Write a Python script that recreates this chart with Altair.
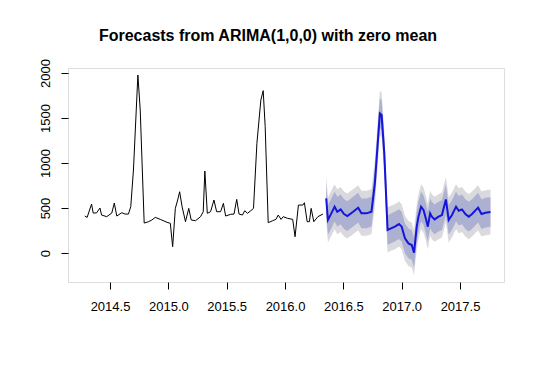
import altair as alt
import pandas as pd

# Historical series (time in years, value)
hist_t = [2014.284, 2014.304, 2014.342, 2014.356, 2014.385, 2014.414, 2014.428, 2014.472,
          2014.515, 2014.537, 2014.558, 2014.601, 2014.629, 2014.658, 2014.678, 2014.701,
          2014.739, 2014.759, 2014.793, 2014.830, 2014.859, 2014.888, 2014.931, 2014.989,
          2015.017, 2015.037, 2015.060, 2015.080, 2015.097, 2015.118, 2015.147, 2015.175,
          2015.196, 2015.233, 2015.276, 2015.299, 2015.313, 2015.334, 2015.362, 2015.391,
          2015.414, 2015.448, 2015.472, 2015.491, 2015.534, 2015.563, 2015.586, 2015.606,
          2015.635, 2015.655, 2015.678, 2015.707, 2015.730, 2015.759, 2015.793, 2015.813,
          2015.830, 2015.856, 2015.894, 2015.922, 2015.942, 2015.966, 2015.985, 2016.023,
          2016.066, 2016.086, 2016.115, 2016.153, 2016.166, 2016.190, 2016.209, 2016.224,
          2016.247, 2016.282, 2016.325]
hist_v = [411, 396, 544, 444, 446, 500, 422, 404,
          444, 555, 411, 448, 433, 433, 515, 922,
          1978, 1589, 333, 348, 367, 396, 374, 341,
          330, 70, 496, 589, 681, 515, 348, 496,
          367, 359, 404, 459, 911, 441, 459, 589,
          459, 459, 552, 411, 430, 433, 596, 433,
          422, 470, 441, 470, 496, 1219, 1700, 1804,
          1404, 337, 359, 374, 422, 374, 404, 385,
          374, 181, 533, 533, 559, 348, 348, 496,
          348, 404, 433]

# Forecast series
fc_t = [2016.353, 2016.368, 2016.397, 2016.425, 2016.448, 2016.477, 2016.506, 2016.534,
        2016.584, 2016.627, 2016.655, 2016.698, 2016.741, 2016.770, 2016.813, 2016.828,
        2016.851, 2016.879, 2016.908, 2016.942, 2016.977, 2017.000, 2017.028, 2017.058,
        2017.086, 2017.106, 2017.129, 2017.144, 2017.166, 2017.187, 2017.207, 2017.224,
        2017.244, 2017.259, 2017.282, 2017.316, 2017.345, 2017.379, 2017.403, 2017.431,
        2017.466, 2017.489, 2017.517, 2017.546, 2017.575, 2017.603, 2017.655, 2017.684,
        2017.718, 2017.761]
fc_v = [607, 367, 441, 515, 459, 485, 433, 411,
        459, 504, 441, 441, 459, 774, 1552, 1533,
        1107, 256, 274, 293, 322, 293, 163, 107,
        89, 4, 293, 404, 515, 478, 385, 293,
        441, 404, 374, 404, 422, 596, 367, 422,
        515, 470, 485, 433, 404, 433, 504, 433,
        448, 456]

# Half-widths of the prediction intervals
half80 = 165
half95 = 250

x_ticks = [2014.5, 2015.0, 2015.5, 2016.0, 2016.5, 2017.0, 2017.5]
y_ticks = [0, 500, 1000, 1500, 2000]
title_text = ["Forecasts from ARIMA(1,0,0) with zero mean"]

hist = pd.DataFrame({"t": hist_t, "v": hist_v})
fc = pd.DataFrame({"t": fc_t, "v": fc_v})
fc["lo80"] = fc["v"] - half80
fc["hi80"] = fc["v"] + half80
fc["lo95"] = fc["v"] - half95
fc["hi95"] = fc["v"] + half95

FONT = "Liberation Sans"

xaxis = alt.Axis(values=x_ticks, format=".1f", title=None, grid=False, domain=False,
                 tickSize=7, tickColor="black", labelColor="black", labelFont=FONT,
                 labelFontSize=13, labelPadding=11, labelBaseline="top", labelAngle=0)
yaxis = alt.Axis(values=y_ticks, format="d", title=None, grid=False, domain=False,
                 tickSize=7, tickColor="black", labelColor="black", labelFont=FONT,
                 labelFontSize=13, labelAngle=-90, labelAlign="center",
                 labelBaseline="alphabetic", labelPadding=12)

xs = alt.Scale(domain=[2014.14, 2017.877], nice=False, zero=False)
ys = alt.Scale(domain=[-322, 2056], nice=False, zero=False)

X = alt.X("t:Q", scale=xs, axis=xaxis)
Y = alt.Y("v:Q", scale=ys, axis=yaxis)

band95 = alt.Chart(fc).mark_area(color="#D9D9DE", opacity=1).encode(
    x=X, y=alt.Y("lo95:Q", scale=ys, axis=yaxis), y2="hi95:Q")
band80 = alt.Chart(fc).mark_area(color="#ADB1D1", opacity=1).encode(
    x=X, y=alt.Y("lo80:Q", scale=ys, axis=yaxis), y2="hi80:Q")
hline = alt.Chart(hist).mark_line(color="black", strokeWidth=1).encode(x=X, y=Y)
fline = alt.Chart(fc).mark_line(color="#1414DC", strokeWidth=2).encode(x=X, y=Y)

title = alt.Chart(pd.DataFrame({"title": title_text})).mark_text(
    font=FONT, fontSize=16, fontWeight="bold", color="black",
    align="center", baseline="alphabetic").encode(
    text="title:N", x=alt.value(200), y=alt.value(-27))

chart = alt.layer(band95, band80, hline, fline, title).properties(
    width=436, height=214,
    padding={"left": 60, "top": 60, "right": 20, "bottom": 70},
    autosize=alt.AutoSizeParams(type="none"),
).configure_view(stroke="#222222", strokeWidth=1.2).configure(background="white")

chart.save("out.html", embed_options={"renderer": "svg", "actions": False})
